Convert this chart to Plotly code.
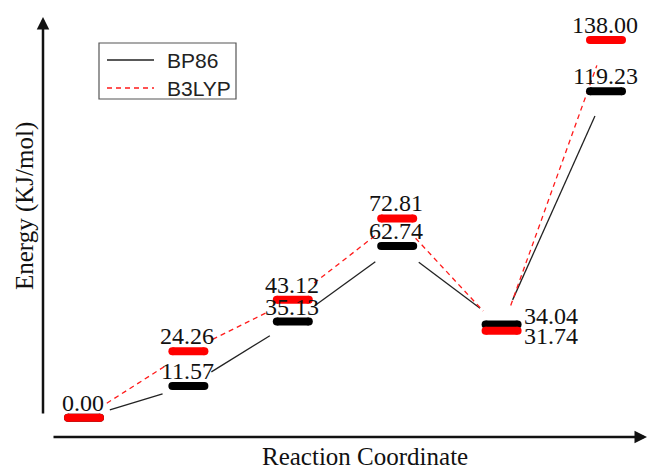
import math
import plotly.graph_objects as go

# ---- data ----
steps = [1, 2, 3, 4, 5, 6]
bp86 = [0.00, 11.57, 35.13, 62.74, 34.04, 119.23]
b3lyp = [0.00, 24.26, 43.12, 72.81, 31.74, 138.00]
series_names = ["BP86", "B3LYP"]
x_title = "Reaction Coordinate"
y_title = "Energy (KJ/mol)"

# ---- layout constants ----
W_FIG, H_FIG = 648, 467
M_L, M_R, M_T, M_B = 43, 3, 17, 30
PW = W_FIG - M_L - M_R
PH = H_FIG - M_T - M_B
X_RANGE = [0.6073, 6.3736]
Y_RANGE = [-7.05, 146.40]

BAR_HALF = 0.1533      # half length of level bar (data units, without caps)
BAR_W = 8
GAP_PX = 27            # connector shortening at each end (pixels)

SERIF = "Liberation Serif, Times New Roman, serif"
SANS = "Liberation Sans, Arial, sans-serif"
BLACK_LINE = dict(color="#222222", width=1.3)
RED_LINE = dict(color="#ff1a1a", width=1.3, dash="5px,4px")


def to_px(x, y):
    px = M_L + (x - X_RANGE[0]) / (X_RANGE[1] - X_RANGE[0]) * PW
    py = M_T + (Y_RANGE[1] - y) / (Y_RANGE[1] - Y_RANGE[0]) * PH
    return px, py


def to_data(px, py):
    x = X_RANGE[0] + (px - M_L) / PW * (X_RANGE[1] - X_RANGE[0])
    y = Y_RANGE[1] - (py - M_T) / PH * (Y_RANGE[1] - Y_RANGE[0])
    return x, y


def paper_x(px):
    return (px - M_L) / PW


def paper_y(py):
    return (H_FIG - M_B - py) / PH


def connectors(xs, ys):
    cx, cy = [], []
    for i in range(len(xs) - 1):
        p1 = to_px(xs[i], ys[i])
        p2 = to_px(xs[i + 1], ys[i + 1])
        dx, dy = p2[0] - p1[0], p2[1] - p1[1]
        L = math.hypot(dx, dy)
        ux, uy = dx / L, dy / L
        a = to_data(p1[0] + ux * GAP_PX, p1[1] + uy * GAP_PX)
        b = to_data(p2[0] - ux * GAP_PX, p2[1] - uy * GAP_PX)
        cx += [a[0], b[0], None]
        cy += [a[1], b[1], None]
    return cx, cy


def bars(xs, ys):
    bx, by = [], []
    for x, y in zip(xs, ys):
        bx += [x - BAR_HALF, x + BAR_HALF, None]
        by += [y, y, None]
    return bx, by


fig = go.Figure()

# connectors
cx, cy = connectors(steps, bp86)
fig.add_trace(go.Scatter(x=cx, y=cy, mode="lines", name=series_names[0],
                         line=BLACK_LINE, showlegend=False))
cx, cy = connectors(steps, b3lyp)
fig.add_trace(go.Scatter(x=cx, y=cy, mode="lines", name=series_names[1],
                         line=RED_LINE, showlegend=False))

# level bars
for vals, col, nm in [(bp86, "#000000", series_names[0]), (b3lyp, "#ff0000", series_names[1])]:
    bx, by = bars(steps, vals)
    fig.add_trace(go.Scatter(x=bx, y=by, mode="lines+markers", showlegend=False, name=nm,
                             line=dict(color=col, width=BAR_W),
                             marker=dict(color=col, size=BAR_W, line=dict(width=0)),
                             hoverinfo="skip"))

# value labels
annotations = []
close_idx = [i for i in range(len(steps)) if abs(bp86[i] - b3lyp[i]) < 5 and bp86[i] != b3lyp[i]]
for i, x in enumerate(steps):
    pairs = [bp86[i], b3lyp[i]]
    if bp86[i] == b3lyp[i]:
        pairs = [b3lyp[i]]
    for v in pairs:
        if i in close_idx:
            upper = v == max(bp86[i], b3lyp[i])
            annotations.append(dict(x=x + BAR_HALF, y=v, xref="x", yref="y",
                                    text=f"{v:.2f}", showarrow=False,
                                    xanchor="left", yanchor="middle",
                                    xshift=4, yshift=9 if upper else -5,
                                    font=dict(family=SERIF, size=24, color="#111")))
        else:
            annotations.append(dict(x=x, y=v, xref="x", yref="y",
                                    text=f"{v:.2f}", showarrow=False,
                                    xanchor="center", yanchor="bottom",
                                    xshift=-1, yshift=0,
                                    font=dict(family=SERIF, size=24, color="#111")))

# axis arrows
annotations.append(dict(x=0, y=1, xref="paper", yref="paper", text="", showarrow=True,
                        ax=0, ay=398, arrowhead=2, arrowsize=1, arrowwidth=2.5,
                        arrowcolor="#111", standoff=0))
annotations.append(dict(x=paper_x(647), y=0, xref="paper", yref="paper", text="",
                        showarrow=True, ax=-595, ay=0, arrowhead=2, arrowsize=1,
                        arrowwidth=2.5, arrowcolor="#111", standoff=0))

# axis titles
annotations.append(dict(x=paper_x(25), y=paper_y(206), xref="paper",
                        yref="paper", text=y_title, showarrow=False, textangle=-90,
                        xanchor="center", yanchor="middle",
                        font=dict(family=SERIF, size=25, color="#111")))
annotations.append(dict(x=paper_x(365), y=paper_y(456), xref="paper",
                        yref="paper", text=x_title, showarrow=False,
                        xanchor="center", yanchor="middle",
                        font=dict(family=SERIF, size=25, color="#111")))

# legend (box, samples, labels)
shapes = [
    dict(type="rect", xref="paper", yref="paper", x0=paper_x(99), x1=paper_x(236),
         y0=paper_y(99), y1=paper_y(43), line=dict(color="#555", width=1.2),
         fillcolor="white", layer="above"),
    dict(type="line", xref="paper", yref="paper", x0=paper_x(107), x1=paper_x(154),
         y0=paper_y(60), y1=paper_y(60), line=dict(color="#222", width=1.5), layer="above"),
    dict(type="line", xref="paper", yref="paper", x0=paper_x(107), x1=paper_x(154),
         y0=paper_y(88), y1=paper_y(88), line=dict(color="#ff1a1a", width=1.5, dash="5px,4px"),
         layer="above"),
]
for name, py in zip(series_names, [61, 89]):
    annotations.append(dict(x=paper_x(165), y=paper_y(py), xref="paper", yref="paper",
                            text=name, showarrow=False, xanchor="left", yanchor="middle",
                            font=dict(family=SANS, size=21, color="#222")))

fig.update_layout(
    width=W_FIG, height=H_FIG,
    margin=dict(l=M_L, r=M_R, t=M_T, b=M_B),
    paper_bgcolor="white", plot_bgcolor="white",
    xaxis=dict(range=X_RANGE, visible=False, fixedrange=True),
    yaxis=dict(range=Y_RANGE, visible=False, fixedrange=True),
    showlegend=False,
    shapes=shapes,
    annotations=annotations,
)

fig.write_html("out.html", config={"displayModeBar": False},
               post_script="document.body.style.margin='0px';document.body.style.overflow='hidden';")
